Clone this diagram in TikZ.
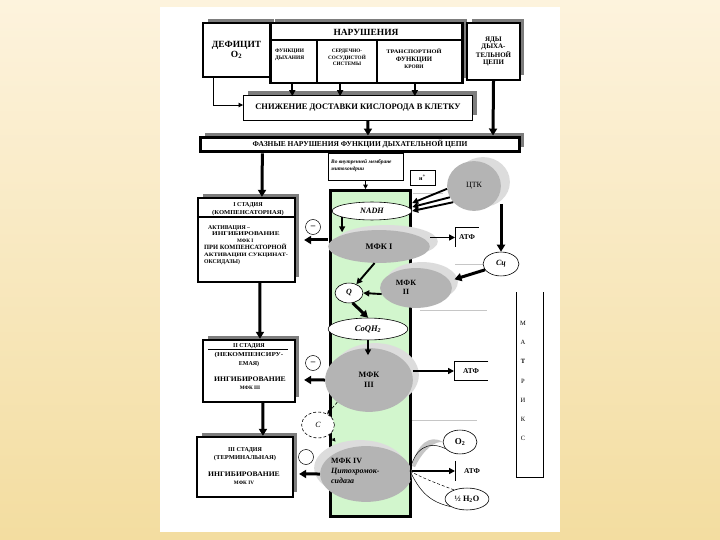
\documentclass[tikz,border=0pt]{standalone}
\usepackage{fontspec}
\setmainfont{Liberation Serif}
\usetikzlibrary{shapes.geometric,arrows.meta,shadows}
\definecolor{bgtop}{RGB}{253,243,221}
\definecolor{bgbot}{RGB}{243,221,160}
\definecolor{shgray}{RGB}{125,125,125}
\definecolor{elgray}{RGB}{180,180,180}
\definecolor{ellight}{RGB}{220,220,220}
\definecolor{mint}{RGB}{210,246,205}
\newcommand\myfs[2]{\fontsize{#1}{#2}\selectfont}
\newcommand\sx[2]{\scalebox{#1}[1]{#2}}
\begin{document}
\begin{tikzpicture}[x=1bp,y=-1bp,
  box/.style={draw, line width=2.6bp, fill=white, inner sep=0pt},
  shbox/.style={drop shadow={shadow xshift=4.5bp, shadow yshift=4.5bp, opacity=1, fill=shgray}},
  wel/.style={ellipse, draw, fill=white, line width=0.6bp, inner sep=0pt},
  gel/.style={ellipse, fill=elgray, inner sep=0pt, font=\bfseries\myfs{8.5}{9.5}, align=center},
  lite/.style 2 args={drop shadow={shadow xshift=#1, shadow yshift=#2, opacity=1, fill=ellight}},
  arr/.style={-{Triangle[length=7bp,width=8bp]}, line width=3bp},
  marr/.style={-{Triangle[length=6bp,width=6bp]}, line width=1.9bp},
  tarr/.style={-{Triangle[length=4.5bp,width=4.5bp]}, line width=0.9bp},
  sarr/.style={-{Triangle[length=3.5bp,width=3.5bp]}, line width=0.6bp, densely dashed},
  txt/.style={inner sep=0pt, font=\bfseries},
  mcirc/.style={circle, draw, line width=0.5bp, fill=white, minimum size=15bp, inner sep=0pt, font=\bfseries\myfs{9}{9}},
  atfbox/.style={anchor=west, inner xsep=3bp, inner ysep=0pt, minimum height=19bp, font=\bfseries\myfs{7.5}{8}},
  graylin/.style={draw=gray!45, line width=0.7bp}
]
\useasboundingbox (0,0) rectangle (720,540);
\shade[top color=bgtop, bottom color=bgbot] (0,0) rectangle (720,540);
\fill[white] (160,7) rectangle (560,532);

% ---- top row
\node[box, shbox, minimum width=67, minimum height=54, font=\bfseries\myfs{9.5}{10.5}, align=center] (deficit) at (236.5,50) {ДЕФИЦИТ\\O\textsubscript{2}};
\node[box, shbox, minimum width=193, minimum height=60] (narush) at (366.5,53) {};
\draw[line width=2bp] ([yshift=-18]narush.north west) -- ([yshift=-18]narush.north east);
\draw[line width=2bp] ([xshift=48,yshift=-18]narush.north west) -- ([xshift=48]narush.south west);
\draw[line width=2bp] ([xshift=108,yshift=-18]narush.north west) -- ([xshift=108]narush.south west);
\node[txt, font=\bfseries\myfs{9.5}{10}] (narT) at (366,32) {НАРУШЕНИЯ};
\node[txt, anchor=north west, align=left, font=\bfseries\myfs{5.4}{6.5}] (nar1) at (275,49) {ФУНКЦИИ\\ДЫХАНИЯ};
\node[txt, anchor=north, align=center, font=\bfseries\myfs{5.2}{6.6}] (nar2) at (347,49) {СЕРДЕЧНО-\\СОСУДИСТОЙ\\СИСТЕМЫ};
\node[txt, anchor=north, align=center, font=\bfseries\myfs{5.4}{7.4}] (nar3) at (414,49) {\sx{1.2}{ТРАНСПОРТНОЙ}\\{\myfs{6.8}{7.4}ФУНКЦИИ}\\КРОВИ};
\node[box, shbox, minimum width=53, minimum height=57, font=\bfseries\myfs{7}{7.2}, align=center] (yady) at (493.5,51.5) {ЯДЫ\\ДЫХА-\\ТЕЛЬНОЙ\\ЦЕПИ};

\node[draw, line width=0.8bp, fill=white, shbox, minimum width=230, minimum height=25, font=\bfseries\myfs{8.5}{9}] (snizh) at (358,107.5) {СНИЖЕНИЕ ДОСТАВКИ КИСЛОРОДА В КЛЕТКУ};
\node[box, line width=3bp, shbox, minimum width=320, minimum height=15, font=\bfseries\myfs{7.5}{8}] (faz) at (360,144.5) {ФАЗНЫЕ НАРУШЕНИЯ ФУНКЦИИ ДЫХАТЕЛЬНОЙ ЦЕПИ};

\draw[tarr] ([xshift=-23.5]deficit.south) |- ([yshift=2.5]snizh.west);
\foreach \dx in {-74.5,-26.5,48.5} \draw[marr] ([xshift=\dx]narush.south) -- ++(0,12);
\draw[arr] ([xshift=10]snizh.south) -- ([xshift=8]faz.north);
\draw[arr] (yady.south) -- ([xshift=133.5]faz.north);

% ---- middle column
\node[draw, line width=0.6bp, fill=white, minimum width=75, minimum height=27] (vnutr) at (365.5,166.5) {};
\node[txt, anchor=north west, align=left, font=\bfseries\itshape\myfs{5.4}{7}] (vnutrT) at (331,159) {Во внутренней мембране\\митохондрии};
\node[draw, line width=3bp, fill=mint, minimum width=81, minimum height=327] (green) at (370.5,353.5) {};
\draw[tarr] (vnutr.south) -- ([xshift=-5]green.north);

\draw[graylin] (413,193) -- (443,193);
\draw[graylin] (455,264) -- (483,264);
\draw[graylin] (420,310) -- (487,310);
\draw[graylin] (412,420) -- (477,420);

\node[draw, line width=0.6bp, fill=white, minimum width=25, minimum height=15, font=\bfseries\myfs{6}{6}] (hplus) at (422.5,177.5) {н\textsuperscript{+}};
\node[gel, lite={9bp}{4bp}, minimum width=54, minimum height=50, font=\myfs{8}{8}] (ctk) at (474,186) {ЦТК};
\node[wel, minimum width=80, minimum height=18, font=\bfseries\itshape\myfs{8.2}{8}] (nadh) at (372,211) {NADH};
\node[gel, lite={8bp}{5bp}, minimum width=102, minimum height=33] (mfk1) at (379,246.5) {МФК I};
\node[wel, minimum width=28, minimum height=20, font=\bfseries\itshape\myfs{8}{8}] (q) at (349,293) {Q};
\node[gel, lite={6bp}{6bp}, minimum width=72, minimum height=40] (mfk2) at (416,288) {};
\node[txt, align=center, font=\bfseries\myfs{8}{9}] (mfk2T) at (406,287) {МФК\\II};
\node[wel, minimum width=36, minimum height=24, font=\bfseries\itshape\myfs{8}{8}] (cc) at (501,264) {Сц};
\node[wel, minimum width=80, minimum height=22, font=\bfseries\itshape\myfs{8.6}{9}] (coq) at (368,329) {CoQH\textsubscript{2}};
\node[gel, lite={6bp}{5bp}, minimum width=88, minimum height=64, font=\bfseries\myfs{8.2}{10}] (mfk3) at (369,380) {МФК\\III};
\node[mcirc] (m3) at (306,457) {};
\node[wel, densely dashed, minimum width=33, minimum height=26, font=\itshape\myfs{8}{8}] (c) at (318,425) {С};
\node[gel, lite={-6bp}{6bp}, minimum width=92, minimum height=56] (mfk4) at (366,474) {};
\node[txt, anchor=west, align=left, font=\bfseries\myfs{8}{9.8}] (mfk4T) at (331,471) {МФК IV\\\textit{Цитохромок-}\\\textit{сидаза}};
\node[wel, minimum width=34, minimum height=24, font=\bfseries\myfs{9}{9}] (o2) at (460,442) {O\textsubscript{2}};
\node[wel, minimum width=44, minimum height=22, font=\bfseries\myfs{8.3}{8}] (h2o) at (467,499) {½ H\textsubscript{2}O};

\node[mcirc] (m1) at (313,227) {–};
\node[mcirc] (m2) at (313,363) {–};

% ATF boxes
\node[atfbox, minimum width=24] (atf1) at (455,237.5) {АТФ};
\draw[line width=0.7bp] (atf1.north west) -- (atf1.south west);
\draw[line width=0.7bp] (atf1.north west) -- (atf1.north east);
\node[atfbox, minimum width=34] (atf2) at (454,371) {АТФ};
\draw[line width=0.7bp] (atf2.north east) -- (atf2.north west) -- (atf2.south west) -- (atf2.south east);
\node[atfbox, minimum width=34, minimum height=20] (atf3) at (455,471) {АТФ};
\draw[line width=0.7bp] (atf3.north west) -- (atf3.south west);

% matrix
\node[minimum width=27, minimum height=185, inner sep=0pt] (matr) at (529.5,384.5) {};
\draw[line width=0.7bp] (matr.north west) -- (matr.south west) -- (matr.south east) -- (matr.north east);
\node[inner sep=0pt, align=center, font=\myfs{6.5}{19.3}] (matrT) at (523,381) {М\\А\\\textbf{Т}\\Р\\И\\К\\С};

% ---- stage boxes
\node[box, shbox, minimum width=97, minimum height=84] (st1) at (246.5,240) {};
\draw[line width=1.6bp] ([yshift=-20]st1.north west) -- ([yshift=-20]st1.north east);
\node[txt, align=center, font=\bfseries\myfs{6}{8}] (st1a) at (248,209) {I СТАДИЯ\\\sx{1.1}{(КОМПЕНСАТОРНАЯ)}};
\node[txt, anchor=north west, align=left, font=\bfseries\myfs{5.8}{6.9}] (st1b) at (204,225) {\hspace*{4pt}АКТИВАЦИЯ –\\\hspace*{8pt}\sx{1.25}{ИНГИБИРОВАНИЕ}\\\hspace*{33pt}{\myfs{5.2}{6.9}МФК I}\\{\myfs{6.5}{6.9}ПРИ КОМПЕНСАТОРНОЙ}\\{\myfs{5.2}{6.9}\sx{1.25}{АКТИВАЦИИ СУКЦИНАТ-}}\\ОКСИДАЗЫ)};

\node[box, shbox, minimum width=92, minimum height=62] (st2) at (249,371) {};
\draw[line width=0.6bp] ([xshift=6,yshift=-10.5]st2.north west) -- ([xshift=-8,yshift=-10.5]st2.north east);
\node[txt, align=center, font=\bfseries\myfs{6}{8.8}] (st2a) at (249,355) {II СТАДИЯ\\\sx{1.2}{(НЕКОМПЕНСИРУ-}\\ЕМАЯ)};
\node[txt, align=center, font=\bfseries\myfs{5.2}{8}] (st2b) at (250,383.5) {{\myfs{7}{8}\sx{1.1}{ИНГИБИРОВАНИЕ}}\\МФК III};

\node[box, shbox, minimum width=96, minimum height=60] (st3) at (245,467) {};
\node[txt, align=center, font=\bfseries\myfs{6}{8.5}] (st3a) at (245,454) {III СТАДИЯ\\\sx{1.1}{(ТЕРМИНАЛЬНАЯ)}};
\node[txt, align=center, font=\bfseries\myfs{5.2}{8}] (st3b) at (244,478) {{\myfs{7}{8}\sx{1.1}{ИНГИБИРОВАНИЕ}}\\МФК IV};

% ---- connectors
\draw[arr] ([xshift=-98]faz.south) -- ([xshift=15.5]st1.north);
\draw[arr] ([xshift=13.5]st1.south) -- ([xshift=11]st2.north);
\draw[arr] ([xshift=14]st2.south) -- ([xshift=18]st3.north);

\draw[marr] (ctk.186) -- ([yshift=8]nadh.east);
\draw[marr] (ctk.205) -- ([yshift=4]nadh.east);
\draw[marr] (ctk.218) -- (nadh.east);
\draw[marr] ([xshift=-30,yshift=3]nadh.south) -- ++(0,15);
\draw[marr] (mfk1.east |- atf1.west) -- (atf1.west);
\draw[arr] (mfk1.west |- st1.east) -- ([xshift=8]st1.east);
\draw[marr] (mfk1.255) -- (q.50);
\draw[marr] (mfk2.190) -- (q.east);
\draw[arr] ([yshift=48]cc.north) -- (cc.north);
\draw[arr] (cc.200) -- ([xshift=6]mfk2.15);
\draw[arr] (q.-70) -- (coq.north);
\draw[marr] (coq.south) -- ++(0,15);
\draw[arr] (mfk3.west) -- ([xshift=8,yshift=-9]st2.east);
\draw[marr] (mfk3.east |- atf2.west) -- (atf2.west);
\draw[sarr] (mfk3.215) -- (c.50);
\draw[sarr] (c.-40) -- ++(6,7);
\draw[arr] (mfk4.west) -- ([xshift=5,yshift=-7]st3.east);
\draw[marr] (mfk4.east |- atf3.west) -- (atf3.west);

% O2 / H2O arcs
\coordinate (piv) at (410,471);
\fill[gray!45] (412,466) .. controls (417,444) and (430,434) .. (o2.west) .. controls (436,441) and (424,448) .. (415,467) -- cycle;
\draw[line width=0.5bp] (piv) .. controls (414,449) and (428,440) .. (o2.205);
\draw[line width=0.5bp] (piv) .. controls (420,492) and (430,502) .. (h2o.205);
\draw[line width=0.5bp, densely dashed] (piv) .. controls (422,478) and (436,483) .. (h2o.145);
\draw[line width=0.7bp] (410,462) -- (410,480);
\end{tikzpicture}
\end{document}
